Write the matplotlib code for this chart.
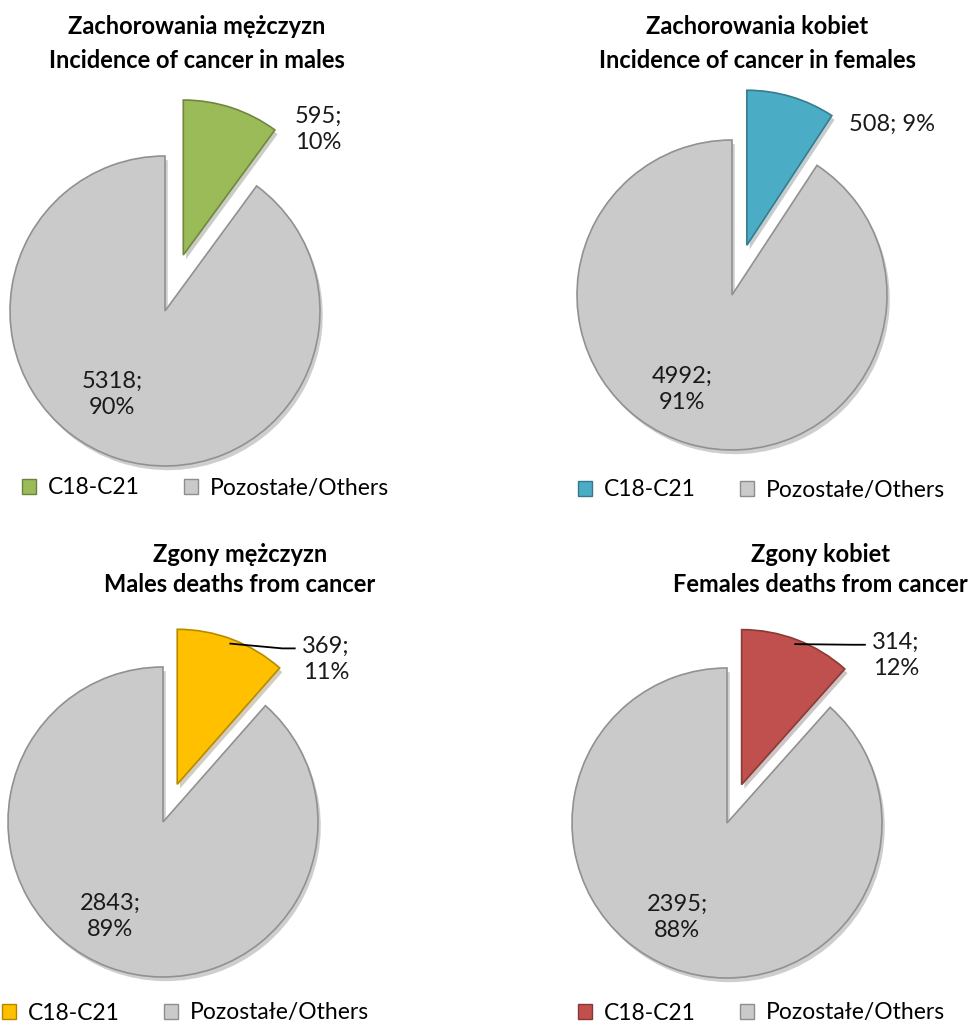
import matplotlib.pyplot as plt
import matplotlib.patheffects as pe
from matplotlib.patches import Patch
import numpy as np

plt.rcParams['font.family'] = ['Lato', 'DejaVu Sans']

# data
title_pl = ['Zachorowania mężczyzn', 'Zachorowania kobiet', 'Zgony mężczyzn', 'Zgony kobiet']
title_en = ['Incidence of cancer in males', 'Incidence of cancer in females',
            'Males deaths from cancer', 'Females deaths from cancer']
c18_c21 = [595, 508, 369, 314]
others = [5318, 4992, 2843, 2395]
legend_labels = ['C18-C21', 'Pozostałe/Others']
slice_colors = ['#9BBB59', '#4BACC6', '#FFC000', '#C0504D']
gray = '#CACACA'

W, H = 971, 1025
fig = plt.figure(figsize=(W / 100, H / 100), dpi=100)

# layout in pixels: pie centre, radius, explode, title centre x, legend left x, legend y
panels = [
    dict(cx=165, cy=311, r=155, explode=0.38, tx=197, ty=(27, 60), lx=22, ly=488,
         lab1=(0.99, 1.17), lab2=(-0.34, -0.54), one_line=False, leader=False),
    dict(cx=732, cy=295, r=155, explode=0.335, tx=757, ty=(27, 60), lx=578, ly=490,
         lab1=(1.03, 1.10), lab2=(-0.32, -0.61), one_line=True, leader=False),
    dict(cx=163, cy=822, r=155, explode=0.26, tx=240, ty=(555, 585), lx=2, ly=1013,
         lab1=(1.05, 1.05), lab2=(-0.34, -0.61), one_line=False, leader=True),
    dict(cx=727, cy=823, r=155, explode=0.265, tx=820, ty=(555, 585), lx=578, ly=1013,
         lab1=(1.09, 1.08), lab2=(-0.32, -0.61), one_line=False, leader=True),
]


def darker(c, f=0.75):
    rgb = np.array(plt.matplotlib.colors.to_rgb(c))
    return tuple(rgb * f)


pad = 1.35
for i, p in enumerate(panels):
    cx, cy, r = p['cx'], p['cy'], p['r']
    ax = fig.add_axes([(cx - pad * r) / W, 1 - (cy + pad * r) / H, 2 * pad * r / W, 2 * pad * r / H])

    vals = [c18_c21[i], others[i]]
    cols = [slice_colors[i], gray]
    wedges, _ = ax.pie(vals, explode=[p['explode'], 0], startangle=90, counterclock=False,
                       colors=cols, radius=1,
                       wedgeprops=dict(linewidth=1.2))
    for w, c in zip(wedges, cols):
        w.set_edgecolor(darker(c, 0.72))
        w.set_path_effects([pe.SimplePatchShadow(offset=(2, -3), alpha=0.25), pe.Normal()])

    # pie() resets the limits, so set them afterwards
    ax.set_xlim(-pad, pad)
    ax.set_ylim(-pad, pad)
    ax.set_aspect('equal')
    ax.axis('off')

    total = sum(vals)
    pct = [round(v / total * 100) for v in vals]
    sep = ' ' if p['one_line'] else '\n'
    txt1 = f'{vals[0]};{sep}{pct[0]}%'
    txt2 = f'{vals[1]};\n{pct[1]}%'
    ax.text(*p['lab1'], txt1, ha='center', va='center', fontsize=17, color='#1a1a1a',
            linespacing=1.3)
    ax.text(*p['lab2'], txt2, ha='center', va='center', fontsize=17, color='#1a1a1a',
            linespacing=1.3)

    if p['leader']:
        mid = np.deg2rad(90 - 180 * vals[0] / total)
        off = p['explode'] * np.array([np.cos(mid), np.sin(mid)])
        start = off + 0.97 * np.array([np.cos(mid), np.sin(mid)])
        lx, ly = p['lab1']
        ax.plot([start[0], lx - 0.28, lx - 0.2], [start[1], ly + 0.07, ly + 0.07],
                color='black', lw=1.3)

    fig.text(p['tx'] / W, 1 - p['ty'][0] / H, title_pl[i], ha='center', va='center',
             fontsize=17, fontweight='bold')
    fig.text(p['tx'] / W, 1 - p['ty'][1] / H, title_en[i], ha='center', va='center',
             fontsize=17, fontweight='bold')

    handles = [Patch(facecolor=slice_colors[i], edgecolor=darker(slice_colors[i], 0.7)),
               Patch(facecolor=gray, edgecolor=darker(gray, 0.7))]
    fig.legend(handles, legend_labels, loc='center left',
               bbox_to_anchor=(p['lx'] / W, 1 - p['ly'] / H), ncol=2, frameon=False,
               fontsize=16.5, handlelength=0.6, handleheight=0.6, handletextpad=0.55,
               columnspacing=1.9, borderaxespad=0, borderpad=0)

fig.savefig('out.png', dpi=100, facecolor='white')
